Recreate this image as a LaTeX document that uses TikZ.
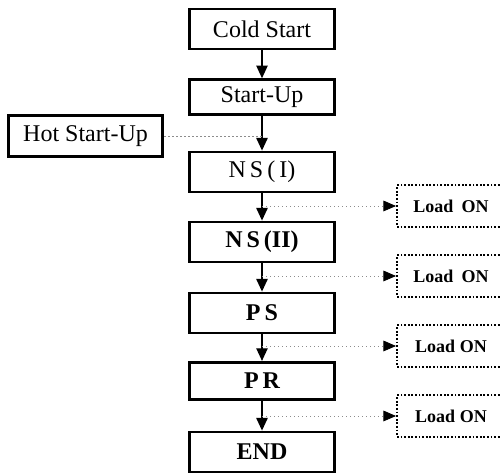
\documentclass[tikz,border=0pt]{standalone}
\usepackage{fontspec}
\setmainfont{Liberation Serif}
\usetikzlibrary{arrows.meta}
\begin{document}
\begin{tikzpicture}[x=0.75pt,y=-0.75pt,
  stage/.style={draw, line width=2.1pt, minimum width=109pt, minimum height=30pt,
    inner sep=0pt, font=\fontsize{18}{20}\selectfont},
  boldstage/.style={stage, font=\fontsize{18}{20}\selectfont\bfseries},
  loadbox/.style={draw, line width=1.4pt, dash pattern=on 1.3pt off 1.4pt,
    minimum width=81pt, minimum height=31pt, inner sep=0pt,
    font=\fontsize{13.5}{15}\selectfont\bfseries},
  flow/.style={line width=1.1pt, -{Triangle[length=9.5pt,width=8.5pt]}},
  feed/.style={draw=black!45, line width=0.6pt, dash pattern=on 1pt off 2pt,
    -{Triangle[length=9.5pt,width=8pt,color=black,fill=black]}},
  hotline/.style={draw=black!45, line width=0.6pt, dash pattern=on 1pt off 2pt}
]
\useasboundingbox (0,0) rectangle (501,473);

% main sequence
\node[stage] (cold) at (262,29) {Cold Start};
\node[stage, minimum height=26pt] (startup) at (262,97) {Start-Up};
\node[stage] (ns1) at (262,172) {N\,S\,(\,I)};
\node[boldstage] (ns2) at (262,242) {N\,S\,(II)};
\node[boldstage] (ps) at (262,313) {P\,S};
\node[boldstage, minimum height=28pt] (pr) at (262,381) {P\,R};
\node[boldstage] (end) at (262,452) {END};

% alternative entry
\node[stage, minimum width=116pt, minimum height=31pt] (hot) at (85.5,136) {Hot Start-Up};

% load switching
\node[loadbox] (l1) at (451,206) {Load\hspace{0.45em}ON};
\node[loadbox] (l2) at (451,276) {Load\hspace{0.45em}ON};
\node[loadbox] (l3) at (451,346) {Load ON};
\node[loadbox] (l4) at (451,416) {Load ON};

\draw[flow] (cold) -- (startup);
\draw[flow] (startup) -- (ns1);
\draw[flow] (ns1) -- (ns2);
\draw[flow] (ns2) -- (ps);
\draw[flow] (ps) -- (pr);
\draw[flow] (pr) -- (end);

\draw[hotline] (hot.east) -- (hot.east -| startup.south);

\draw[feed] (ns1.south |- l1.west) -- (l1.west);
\draw[feed] (ns2.south |- l2.west) -- (l2.west);
\draw[feed] (ps.south |- l3.west) -- (l3.west);
\draw[feed] (pr.south |- l4.west) -- (l4.west);
\end{tikzpicture}
\end{document}
